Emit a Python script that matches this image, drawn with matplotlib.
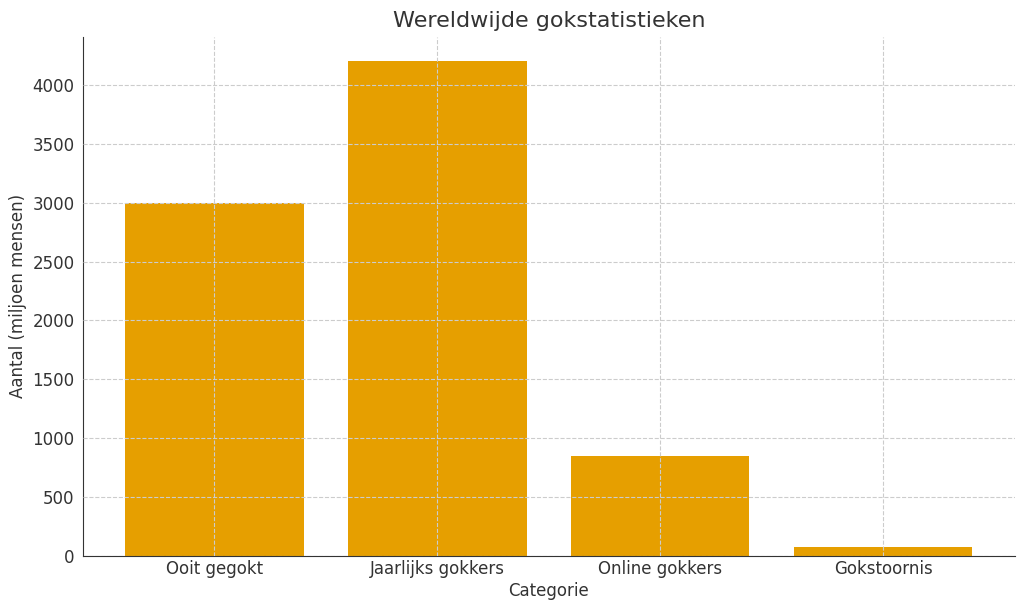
import matplotlib
matplotlib.use("Agg")
import matplotlib.pyplot as plt

categories = ["Ooit gegokt", "Jaarlijks gokkers", "Online gokkers", "Gokstoornis"]
values = [3000, 4200, 850, 80]

fig = plt.figure(figsize=(10.24, 6.11), dpi=100)
ax = fig.add_axes([0.081, 0.09, 0.91, 0.85])
ax.bar(categories, values, color="#E69F00", width=0.8, zorder=1)
ax.grid(True, linestyle="--", color="#cccccc", linewidth=0.8, zorder=2)
ax.set_axisbelow(False)
ax.set_ylim(0, 4410)
ax.set_yticks(range(0, 4001, 500))
for s in ["top", "right"]:
    ax.spines[s].set_visible(False)
ax.spines["left"].set_color("#333333")
ax.spines["bottom"].set_color("#333333")
ax.tick_params(colors="#333333", labelsize=12)
ax.tick_params(axis="x", length=0, pad=3)
ax.tick_params(axis="y", length=0, pad=6)
ax.set_title("Wereldwijde gokstatistieken", fontsize=16, color="#333333", pad=7)
ax.set_xlabel("Categorie", fontsize=12, color="#333333", labelpad=3)
ax.set_ylabel("Aantal (miljoen mensen)", fontsize=12, color="#333333")
fig.savefig("out.png", dpi=100)
